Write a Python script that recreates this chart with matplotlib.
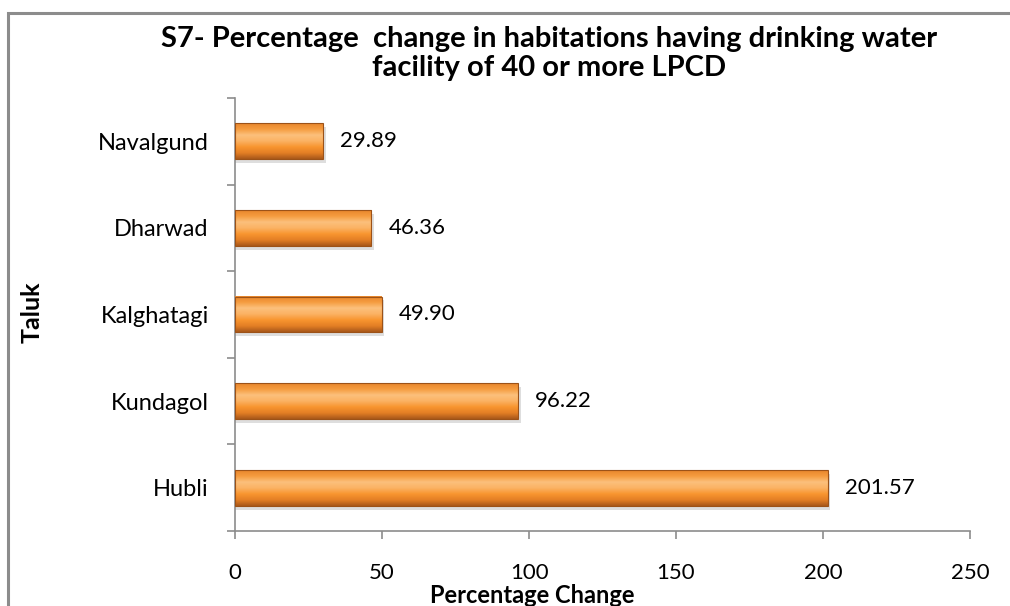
import numpy as np
import matplotlib.pyplot as plt
from matplotlib.patches import Rectangle
from matplotlib.colors import LinearSegmentedColormap

taluks = ["Hubli", "Kundagol", "Kalghatagi", "Dharwad", "Navalgund"]
pct_change = [201.57, 96.22, 49.90, 46.36, 29.89]
value_labels = ["201.57", "96.22", "49.90", "46.36", "29.89"]
x_ticks = [0, 50, 100, 150, 200, 250]

plt.rcParams["font.family"] = ["Lato", "DejaVu Sans"]

fig = plt.figure(figsize=(10.1, 6.06), dpi=100)
ax = fig.add_axes([0.2327, 0.1238, 0.7277, 0.7145])

# outer chart frame (only left and top edges fall inside the picture)
fig.patches.append(Rectangle((8 / 1010, -0.2), 1.2, 1.2 - 13 / 606,
                             transform=fig.transFigure, fill=False,
                             edgecolor="#8c8c8c", linewidth=2.2, zorder=0))

ypos = np.arange(len(taluks))
bar_h = 0.415
bars = ax.barh(ypos, pct_change, height=bar_h, color="none", edgecolor="none", zorder=3)

grad = LinearSegmentedColormap.from_list(
    "orange3d", ["#a9581a", "#e47f25", "#f8952f", "#fbb263", "#fcc07c", "#f59c40", "#e8862c"])
g = np.linspace(0, 1, 100).reshape(-1, 1)
for b in bars:
    x0, y0 = b.get_x(), b.get_y()
    w, h = b.get_width(), b.get_height()
    # soft shadow under each bar
    ax.add_patch(Rectangle((x0, y0 - 0.045), w + 0.9, h, facecolor="#c8c8c8",
                           edgecolor="none", alpha=0.6, zorder=2))
    ax.imshow(g, cmap=grad, aspect="auto", extent=(x0, x0 + w, y0, y0 + h),
              origin="lower", zorder=3)
    ax.add_patch(Rectangle((x0, y0), w, h, facecolor="none",
                           edgecolor="#9c5218", linewidth=0.8, zorder=4))

for y, v, lab in zip(ypos, pct_change, value_labels):
    ax.text(v + 5.8, y, lab, va="center", ha="left", fontsize=16, color="black")

ax.set_xlim(0, 250)
ax.set_ylim(-0.5, len(taluks) - 0.5)
ax.set_xticks(x_ticks)
ax.set_xticklabels([str(t) for t in x_ticks], fontsize=16)
ax.set_yticks(ypos)
ax.set_yticklabels(taluks, fontsize=17)
ax.set_yticks(np.arange(-0.5, len(taluks)), minor=True)
ax.tick_params(axis="y", which="major", length=0, pad=19)
ax.tick_params(axis="y", which="minor", length=6, color="#8c8c8c", width=1.2)
ax.tick_params(axis="x", which="major", length=6, color="#8c8c8c", width=1.2, pad=17)

for s in ["top", "right"]:
    ax.spines[s].set_visible(False)
for s in ["left", "bottom"]:
    ax.spines[s].set_color("#8c8c8c")
    ax.spines[s].set_linewidth(1.2)

fig.text(532 / 1010, 1 - 603 / 606, "Percentage Change", ha="center", va="baseline",
         fontsize=17, fontweight="bold")
fig.text(32 / 1010, 1 - 312 / 606, "Taluk", ha="center", va="center", rotation=90,
         fontsize=18, fontweight="bold")

fig.text(549 / 1010, 1 - 39 / 606,
         "S7- Percentage  change in habitations having drinking water",
         ha="center", va="center", fontsize=21, fontweight="bold")
fig.text(549 / 1010, 1 - 68 / 606, "facility of 40 or more LPCD",
         ha="center", va="center", fontsize=21, fontweight="bold")

fig.savefig("out.png", dpi=100)
